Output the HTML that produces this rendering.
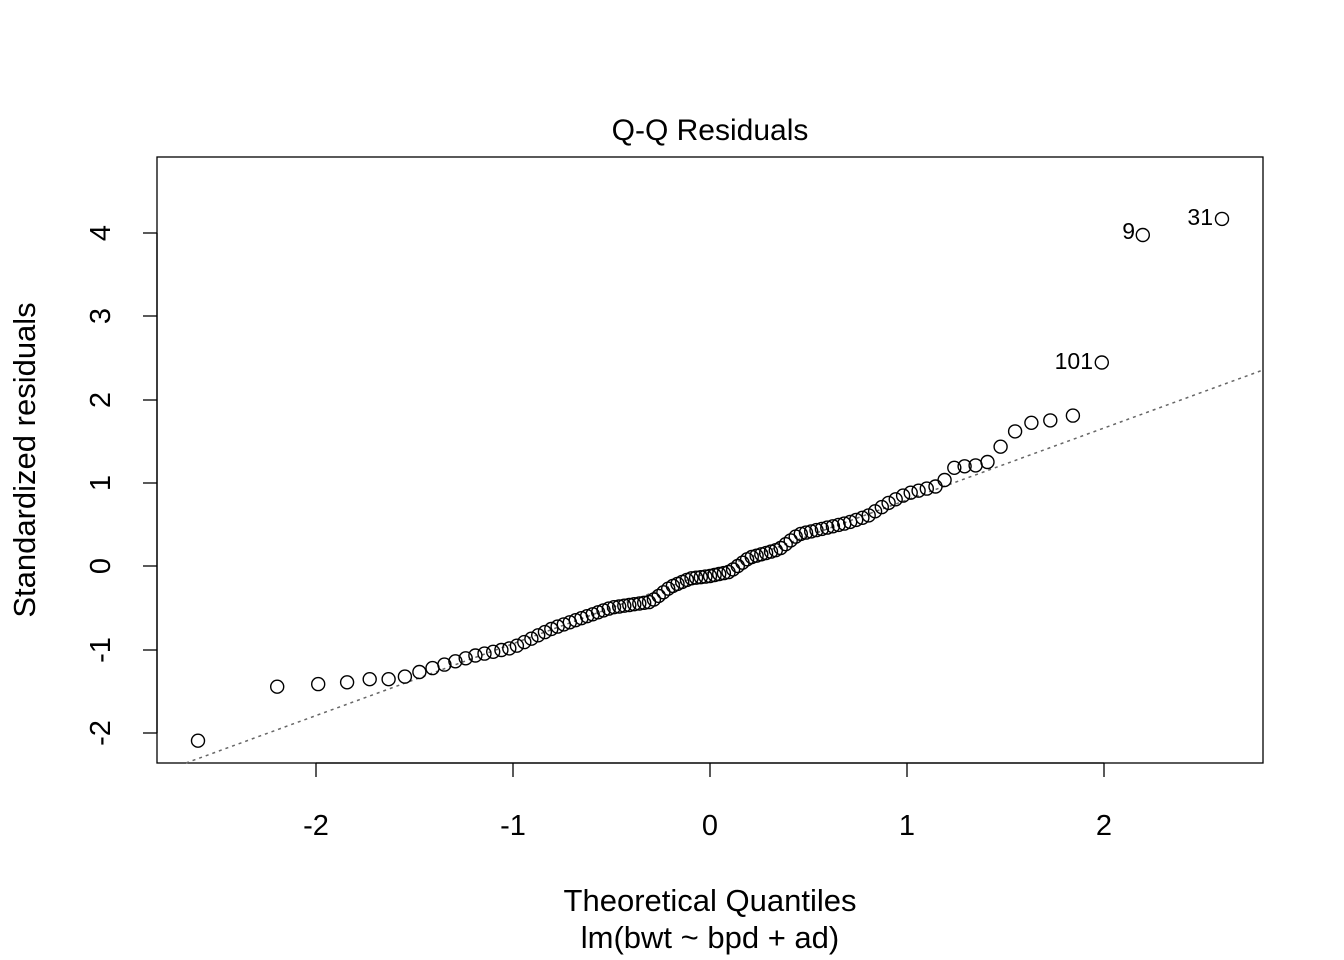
<!DOCTYPE html>
<html><head><meta charset="utf-8"><style>
html,body{margin:0;padding:0;background:#fff;}
svg{display:block;font-family:"Liberation Sans",Arial,sans-serif;}
</style></head><body>
<svg id="s" width="1344" height="960" viewBox="0 0 1344 960" xmlns="http://www.w3.org/2000/svg">
<rect x="157" y="157" width="1106" height="606" fill="none" stroke="#000" stroke-width="1.3"/>
<text x="710" y="140" font-size="30" text-anchor="middle">Q-Q Residuals</text>
<g stroke="#000" stroke-width="1.3">
<line x1="316" y1="763" x2="1104" y2="763"/>
<line x1="316" y1="763" x2="316" y2="777"/><line x1="513" y1="763" x2="513" y2="777"/><line x1="710" y1="763" x2="710" y2="777"/><line x1="907" y1="763" x2="907" y2="777"/><line x1="1104" y1="763" x2="1104" y2="777"/>
<line x1="157" y1="733" x2="157" y2="233"/>
<line x1="157" y1="733" x2="143" y2="733"/><line x1="157" y1="650" x2="143" y2="650"/><line x1="157" y1="566" x2="143" y2="566"/><line x1="157" y1="483" x2="143" y2="483"/><line x1="157" y1="400" x2="143" y2="400"/><line x1="157" y1="316" x2="143" y2="316"/><line x1="157" y1="233" x2="143" y2="233"/>
</g>
<g font-size="29" text-anchor="middle">
<text x="316" y="835">-2</text><text x="513" y="835">-1</text><text x="710" y="835">0</text><text x="907" y="835">1</text><text x="1104" y="835">2</text>
<text transform="translate(110,733) rotate(-90)">-2</text>
<text transform="translate(110,650) rotate(-90)">-1</text>
<text transform="translate(110,566) rotate(-90)">0</text>
<text transform="translate(110,483) rotate(-90)">1</text>
<text transform="translate(110,400) rotate(-90)">2</text>
<text transform="translate(110,316) rotate(-90)">3</text>
<text transform="translate(110,233) rotate(-90)">4</text>
<text x="710" y="911" font-size="31">Theoretical Quantiles</text>
<text x="710" y="948" font-size="31">lm(bwt ~ bpd + ad)</text>
<text transform="translate(35,460) rotate(-90)" font-size="31">Standardized residuals</text>
</g>
<line x1="186" y1="763" x2="1263" y2="370" stroke="#666" stroke-width="1.5" stroke-dasharray="3,4"/>
<g font-size="23" text-anchor="end">
<text x="1135" y="239">9</text>
<text x="1213" y="225">31</text>
<text x="1093" y="369">101</text>
</g>
<g id="pts" fill="none" stroke="#000" stroke-width="1.4"></g>
</svg>
<script>
function qn(p){var a=[-39.6968302866538,220.946098424521,-275.928510446969,138.357751867269,-30.6647980661472,2.50662827745924],b=[-54.4760987982241,161.585836858041,-155.698979859887,66.8013118877197,-13.2806815528857],c=[-0.00778489400243029,-0.322396458041136,-2.40075827716184,-2.54973253934373,4.37466414146497,2.93816398269878],d=[0.00778469570904146,0.32246712907004,2.445134137143,3.75440866190742];var q,r;if(p<0.02425){q=Math.sqrt(-2*Math.log(p));return(((((c[0]*q+c[1])*q+c[2])*q+c[3])*q+c[4])*q+c[5])/((((d[0]*q+d[1])*q+d[2])*q+d[3])*q+1);}if(p>1-0.02425){q=Math.sqrt(-2*Math.log(1-p));return-(((((c[0]*q+c[1])*q+c[2])*q+c[3])*q+c[4])*q+c[5])/((((d[0]*q+d[1])*q+d[2])*q+d[3])*q+1);}q=p-0.5;r=q*q;return(((((a[0]*r+a[1])*r+a[2])*r+a[3])*r+a[4])*r+a[5])*q/(((((b[0]*r+b[1])*r+b[2])*r+b[3])*r+b[4])*r+1);}
var A=[[-2.7,-2.1],[-2.6,-2.1],[-2.3,-1.45],[-2.2,-1.45],[-2.0,-1.42],[-1.85,-1.4],[-1.73,-1.36],[-1.63,-1.36],[-1.55,-1.33],[-1.47,-1.27],[-1.2,-1.08],[-1,-0.98],[-0.8,-0.75],[-0.5,-0.5],[-0.3,-0.43],[-0.2,-0.25],[-0.1,-0.15],[0,-0.12],[0.1,-0.07],[0.2,0.1],[0.35,0.2],[0.45,0.38],[0.7,0.52],[0.8,0.6],[0.9,0.75],[1.0,0.87],[1.17,0.97],[1.24,1.18],[1.3,1.2],[1.36,1.21],[1.41,1.25],[1.47,1.42],[1.55,1.62],[1.63,1.72],[1.73,1.75],[1.85,1.81],[1.99,2.45],[2.2,4.0],[2.6,4.17],[2.7,4.17]];
function f(x){for(var i=0;i<A.length-1;i++){if(x<=A[i+1][0]){var t=(x-A[i][0])/(A[i+1][0]-A[i][0]);return A[i][1]+t*(A[i+1][1]-A[i][1]);}}return 4.17;}
var n=107,g=document.getElementById('pts'),h='';
for(var i=1;i<=n;i++){var x=qn((i-0.5)/n),y=f(x);h+='<circle cx="'+(710+197*x).toFixed(1)+'" cy="'+(566-83.25*y).toFixed(1)+'" r="6.5"/>';}
g.innerHTML=h;
</script>
</body></html>
